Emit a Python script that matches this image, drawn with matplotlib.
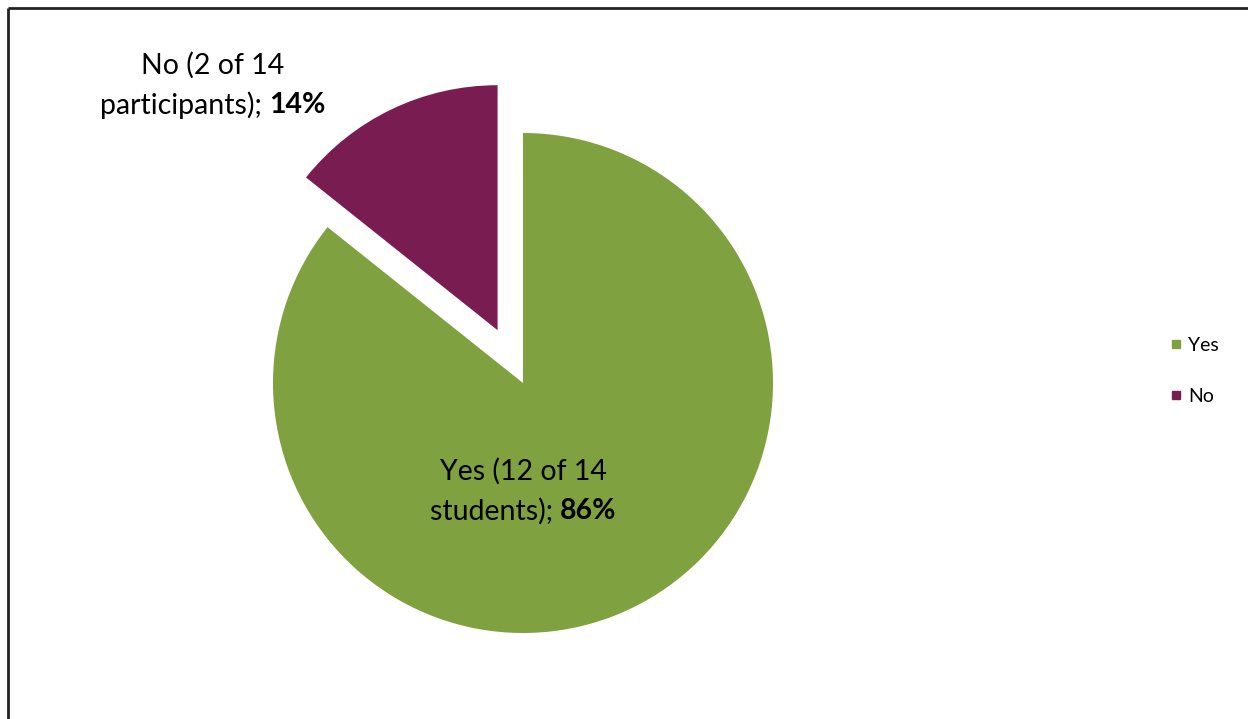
import matplotlib.pyplot as plt
from matplotlib.lines import Line2D

# data
labels = ['Yes', 'No']
counts = [12, 14 - 12]
groups = ['students', 'participants']
colors = ['#7FA13F', '#781C52']
W, H = 1248, 719

plt.rcParams['font.family'] = ['Lato', 'DejaVu Sans']

fig = plt.figure(figsize=(W / 100, H / 100), dpi=100)
ax = fig.add_axes([0, 0, 1, 1])
ax.set_xlim(0, W)
ax.set_ylim(0, H)
ax.set_aspect('equal')
ax.axis('off')

# pie in pixel space (explode is in data units here, not a radius fraction)
wedges, _ = ax.pie(counts, colors=colors, startangle=90, counterclock=False,
                   center=(523, H - 383), radius=250, explode=[0, 58.6],
                   wedgeprops=dict(linewidth=0))
wedges[1].set_radius(245)
ax.set_xlim(0, W)
ax.set_ylim(0, H)

# frame around the chart area (only left and top visible)
ax.plot([8, 8], [0, H - 8], color='#222222', lw=2, solid_capstyle='butt')
ax.plot([8, W], [H - 8, H - 8], color='#222222', lw=2, solid_capstyle='butt')

total = sum(counts)
fs = 20.5
renderer = fig.canvas.get_renderer()


def pie_label(cx, cy, name, n, who):
    pct = round(100 * n / total)
    ax.text(cx, cy + 20, f'{name} ({n} of {total}', ha='center', va='center',
            fontsize=fs)
    t1 = ax.text(0, cy - 20, f'{who}); ', ha='left', va='center', fontsize=fs)
    t2 = ax.text(0, cy - 20, f'{pct}%', ha='left', va='center', fontsize=fs,
                 fontweight='bold')
    w1 = t1.get_window_extent(renderer).width
    w2 = t2.get_window_extent(renderer).width
    x0 = cx - (w1 + w2) / 2
    t1.set_x(x0)
    t2.set_x(x0 + w1)


pie_label(213, H - 85, labels[1], counts[1], groups[1])
pie_label(523, H - 491, labels[0], counts[0], groups[0])

handles = [Line2D([], [], marker='s', ls='', color=c, markersize=6)
           for c in colors]
fig.legend(handles, labels, loc='center left', bbox_to_anchor=(1154 / W, 1 - 371 / H),
           frameon=False, fontsize=14, handlelength=0.5, handletextpad=0.35,
           labelspacing=1.75)

fig.savefig('out.png', dpi=100)
